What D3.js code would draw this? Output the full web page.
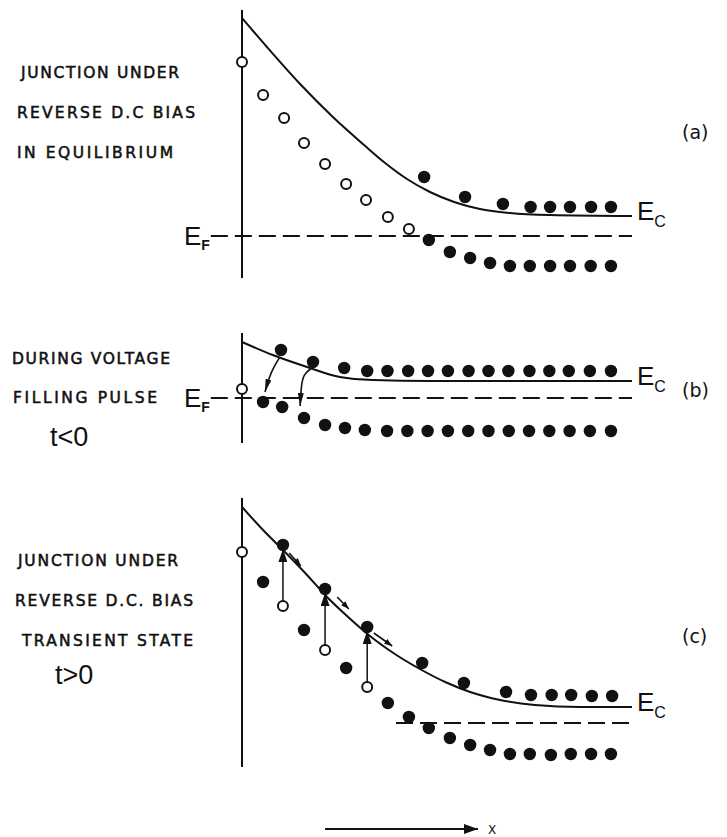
<!DOCTYPE html>
<html><head><meta charset="utf-8">
<script src="https://cdn.jsdelivr.net/npm/d3@7"></script>
<style>body{margin:0;background:#fff} svg{display:block}</style>
</head><body><svg id="chart" width="727" height="837"></svg>
<script>
// ---------------- DATA (position units 0..100 from junction, energy units relative to E_F) -------------
const panelLetters = ["(a)", "(b)", "(c)"];
const captionA = ["JUNCTION UNDER", "REVERSE D.C BIAS", "IN EQUILIBRIUM"];
const captionB = ["DURING VOLTAGE", "FILLING PULSE"];
const captionC = ["JUNCTION UNDER", "REVERSE D.C. BIAS", "TRANSIENT STATE"];
const timeLabels = ["t<0", "t>0"];
const levelLabels = ["E", "F", "C"];
const axisLabel = "X";

// panel (a): equilibrium
const ecA = [[0,21.8],[6.4,18.9],[14.9,15.2],[23.3,11.9],[31.3,9.1],[36.7,7.3],[42.3,5.7],[48.2,4.4],[54.4,3.4],[61.0,2.7],[68.7,2.3],[79.0,2.1],[100,2.0]];
const openA = [[0,17.4],[5.4,14.1],[10.8,11.8],[15.9,9.3],[21.3,7.2],[26.7,5.2],[31.8,3.6],[37.4,1.9],[42.8,0.7]];
const upperA = [[46.7,5.9],[57.2,3.9],[66.9,3.2],[74.0,2.9],[79.0,2.9],[84.1,2.9],[89.5,2.9],[94.6,2.9]];
const lowerA = [[47.9,-0.4],[53.3,-1.6],[58.5,-2.2],[63.6,-2.7],[68.7,-3.0],[73.8,-3.0],[79.0,-3.0],[84.1,-3.0],[89.4,-3.0],[94.6,-3.0]];
const efA = [-8, 100];

// panel (b): filling pulse
const ecB = [[0,5.6],[7.9,4.3],[16.7,3.1],[25.1,2.1],[33.6,1.8],[48.2,1.7],[100,1.7]];
const openB = [[0,0.9]];
const upperB = [[10,4.8],[18.2,3.6],[26.2,3.0],[32.1,2.7],[37.3,2.7],[42.6,2.7],[47.7,2.7],[52.8,2.7],[58.1,2.7],[63.2,2.7],[68.3,2.7],[73.7,2.7],[78.8,2.7],[83.8,2.7],[89.2,2.7],[94.6,2.7]];
const lowerB = [[5.4,-0.4],[10.3,-0.9],[15.9,-2.0],[21.3,-2.7],[26.4,-3.0],[31.5,-3.2],[37.2,-3.3],[42.4,-3.3],[47.6,-3.3],[52.8,-3.3],[58.0,-3.3],[63.2,-3.3],[68.4,-3.3],[73.6,-3.3],[78.8,-3.3],[84.0,-3.3],[89.2,-3.3],[94.6,-3.3]];
const captureB = [[[9.7,4.1],[8.0,3.0],[6.9,2.0],[5.9,0.6]], [[17.9,3.0],[15.8,2.4],[15.2,1.3],[14.9,-0.8]]];
const efB = [-8, 100];

// panel (c): transient emission
const ecC = [[0,21.6],[5.4,19.3],[10.5,17.3],[16.2,15.0],[21.8,12.6],[27.2,10.6],[32.8,8.7],[39.2,6.9],[45.6,5.4],[52.1,4.1],[58.5,3.1],[66.2,2.3],[75.1,1.8],[86.7,1.6],[100,1.6]];
const openC = [[0,17.1]];
const emitX = [10.5, 21.3, 32.1];
const emitFilled = [17.8, 13.4, 9.6];
const emitOpen = [11.7, 7.3, 3.6];
const driftC = [[[12.1,17.0],[15.1,15.7]], [[24.4,12.6],[27.4,11.4]], [[33.8,9.0],[38.5,7.7]]];
const lowerC = [[5.4,14.1],[15.9,9.3],[26.7,5.5],[37.4,2.0],[42.8,0.6],[47.9,-0.5],[53.3,-1.5],[58.5,-2.2],[63.6,-2.7],[68.7,-3.1],[73.8,-3.1],[79.2,-3.2],[84.3,-3.1],[89.5,-3.1],[94.6,-3.1]];
const upperC = [[46.2,6.0],[56.9,4.0],[67.7,3.1],[74.1,2.8],[79.4,2.8],[84.4,2.8],[89.7,2.7],[94.9,2.7]];
const efC = [39.5, 100];
const xArrow = [21.3, 60.5];

// ---------------- LAYOUT ----------------
const svg = d3.select("#chart");
const x = d3.scaleLinear().domain([0, 100]).range([242, 632]);
const yA = d3.scaleLinear().domain([-4.2, 22.6]).range([278, 10]);
const yB = d3.scaleLinear().domain([-4.5, 6.5]).range([443, 333]);
const yC = d3.scaleLinear().domain([-4.4, 22.5]).range([767, 498]);
const ink = "#111";
const capFont = "'DejaVu Sans', sans-serif";

const defs = svg.append("defs");
function marker(id, w, h) {
  defs.append("marker").attr("id", id).attr("viewBox", `0 0 ${w} ${h}`)
    .attr("markerWidth", w).attr("markerHeight", h).attr("markerUnits", "userSpaceOnUse")
    .attr("refX", w).attr("refY", h / 2).attr("orient", "auto")
    .append("path").attr("d", `M0,0 L${w},${h/2} L0,${h} Z`).attr("fill", ink);
}
marker("tri", 13, 9);
marker("drop", 13, 6);
marker("small", 8, 6);
marker("big", 14, 10);

function panel(y, ec, opens, filled, ef, letter, letterY, capLines, capPos) {
  const g = svg.append("g");
  const [y0, y1] = y.domain();
  g.append("line").attr("x1", x(0)).attr("x2", x(0)).attr("y1", y(y0)).attr("y2", y(y1))
    .attr("stroke", ink).attr("stroke-width", 2);
  g.append("path").datum(ec).attr("fill", "none").attr("stroke", ink).attr("stroke-width", 2)
    .attr("d", d3.line().x(d => x(d[0])).y(d => y(d[1])).curve(d3.curveMonotoneX));
  g.append("line").attr("x1", x(ef[0])).attr("x2", x(ef[1])).attr("y1", y(0)).attr("y2", y(0))
    .attr("stroke", ink).attr("stroke-width", 2).attr("stroke-dasharray", "17,7");
  g.selectAll("circle.f").data(filled).join("circle").attr("class", "f")
    .attr("cx", d => x(d[0])).attr("cy", d => y(d[1])).attr("r", 6.2).attr("fill", ink);
  g.selectAll("circle.o").data(opens).join("circle").attr("class", "o")
    .attr("cx", d => x(d[0])).attr("cy", d => y(d[1])).attr("r", 5)
    .attr("fill", "#fff").attr("stroke", ink).attr("stroke-width", 2);
  // E_C label
  const ecEnd = ec[ec.length - 1];
  const t = g.append("text").attr("x", x(ecEnd[0]) + 5).attr("y", y(ecEnd[1]) + 4)
    .attr("font-family", "'Liberation Sans', sans-serif").attr("font-size", 26).attr("fill", ink);
  t.append("tspan").text(levelLabels[0]);
  t.append("tspan").attr("dy", 7).attr("font-size", 16).text(levelLabels[2]);
  // panel letter
  g.append("text").attr("x", 682).attr("y", letterY).attr("font-family", capFont)
    .attr("font-size", 19).attr("fill", ink).attr("dominant-baseline", "central").text(letter);
  // caption
  capLines.forEach((s, i) => {
    g.append("text").attr("x", capPos[i][0]).attr("y", capPos[i][1]).attr("dominant-baseline", "central")
      .attr("font-family", capFont).attr("font-size", 15.5).attr("fill", ink)
      .attr("stroke", ink).attr("stroke-width", 0.55)
      .attr("textLength", capPos[i][2]).attr("lengthAdjust", "spacing").text(s);
  });
  return g;
}
function efLabel(g, y) {
  const t = g.append("text").attr("x", 184).attr("y", y(0) + 9)
    .attr("font-family", "'Liberation Sans', sans-serif").attr("font-size", 26).attr("fill", ink);
  t.append("tspan").text(levelLabels[0]);
  t.append("tspan").attr("dy", 5).attr("font-size", 14).attr("font-weight", "bold").text(levelLabels[1]);
}

// (a)
const gA = panel(yA, ecA, openA, upperA.concat(lowerA), efA, panelLetters[0], 132, captionA,
  [[21, 73, 158], [17, 113, 178], [17, 153, 156]]);
efLabel(gA, yA);

// (b)
const gB = panel(yB, ecB, openB, upperB.concat(lowerB), efB, panelLetters[1], 390, captionB,
  [[12, 359, 158], [13, 398, 144]]);
efLabel(gB, yB);
gB.selectAll("path.cap").data(captureB).join("path").attr("class", "cap")
  .attr("fill", "none").attr("stroke", ink).attr("stroke-width", 1.6)
  .attr("d", d3.line().x(d => x(d[0])).y(d => yB(d[1])).curve(d3.curveBasis))
  .attr("marker-end", "url(#drop)");
gB.append("text").attr("x", 50).attr("y", 437).attr("dominant-baseline", "central")
  .attr("font-family", "'Liberation Sans', sans-serif").attr("font-size", 27).attr("fill", ink).text(timeLabels[0]);

// (c)
const emitFilledPts = emitX.map((v, i) => [v, emitFilled[i]]);
const emitOpenPts = emitX.map((v, i) => [v, emitOpen[i]]);
const gC = panel(yC, ecC, openC.concat(emitOpenPts), upperC.concat(lowerC).concat(emitFilledPts), efC,
  panelLetters[2], 636, captionC, [[18, 561, 160], [15, 601, 178], [22, 641, 171]]);
gC.selectAll("line.em").data(emitX).join("line").attr("class", "em")
  .attr("x1", d => x(d)).attr("x2", d => x(d))
  .attr("y1", (d, i) => yC(emitOpen[i]) - 5).attr("y2", (d, i) => yC(emitFilled[i]) + 4)
  .attr("stroke", ink).attr("stroke-width", 1.5).attr("marker-end", "url(#tri)");
gC.selectAll("line.dr").data(driftC).join("line").attr("class", "dr")
  .attr("x1", d => x(d[0][0])).attr("y1", d => yC(d[0][1]))
  .attr("x2", d => x(d[1][0])).attr("y2", d => yC(d[1][1]))
  .attr("stroke", ink).attr("stroke-width", 1.6).attr("marker-end", "url(#small)");
gC.append("text").attr("x", 55).attr("y", 675).attr("dominant-baseline", "central")
  .attr("font-family", "'Liberation Sans', sans-serif").attr("font-size", 27).attr("fill", ink).text(timeLabels[1]);

// x direction arrow
svg.append("line").attr("x1", x(xArrow[0])).attr("x2", x(xArrow[1])).attr("y1", 829).attr("y2", 829)
  .attr("stroke", ink).attr("stroke-width", 2).attr("marker-end", "url(#big)");
svg.append("text").attr("x", x(xArrow[1]) + 10).attr("y", 833.5)
  .attr("font-family", capFont).attr("font-size", 12).attr("fill", ink).text(axisLabel);
</script></body></html>
